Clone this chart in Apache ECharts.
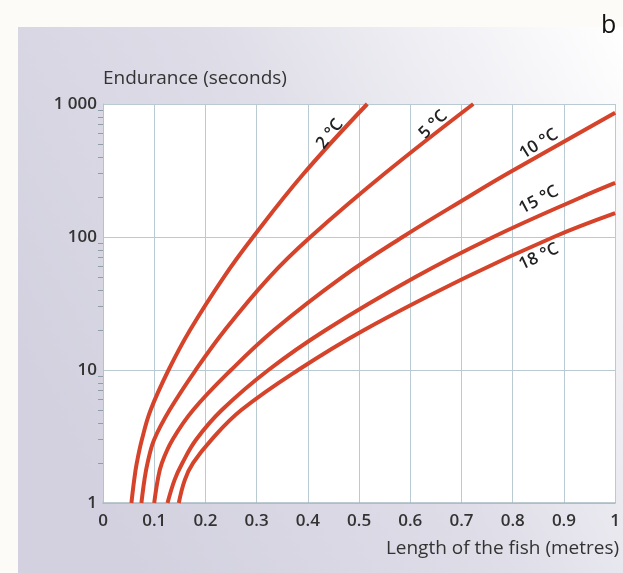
<!DOCTYPE html>
<html>
<head>
<meta charset="utf-8">
<script src="https://cdn.jsdelivr.net/npm/echarts@6/dist/echarts.min.js"></script>
<style>
  html, body { margin: 0; padding: 0; background: #fcfbf8; }
  #main { width: 623px; height: 573px; }
</style>
</head>
<body>
<div id="main"></div>
<script>
// Endurance (s) against fish length (m), one curve per water temperature
const tempNames = ['2 °C', '5 °C', '10 °C', '15 °C', '18 °C'];

// [length, endurance] pairs
const curve2 = [[0.0555, 1], [0.061, 1.5], [0.066, 2], [0.076, 3], [0.093, 5], [0.128, 10], [0.17, 20],
  [0.236, 50], [0.293, 100], [0.392, 300], [0.516, 1000]];
const curve5 = [[0.075, 1], [0.081, 1.5], [0.087, 2], [0.1, 3], [0.13, 5], [0.181, 10], [0.238, 20],
  [0.325, 50], [0.405, 100], [0.55, 300], [0.723, 1000]];
const curve10 = [[0.1, 1], [0.107, 1.5], [0.115, 2], [0.136, 3], [0.176, 5], [0.25, 10], [0.334, 20],
  [0.467, 50], [0.585, 100], [0.713, 200], [0.79, 300], [1, 860]];
const curve15 = [[0.126, 1], [0.14, 1.5], [0.155, 2], [0.182, 3], [0.232, 5], [0.323, 10], [0.435, 20],
  [0.61, 50], [0.762, 100], [0.935, 200], [1, 255]];
const curve18 = [[0.148, 1], [0.16, 1.5], [0.176, 2], [0.212, 3], [0.27, 5], [0.381, 10], [0.51, 20],
  [0.71, 50], [0.88, 100], [1, 151]];

const minorTickValues = [2, 3, 4, 5, 6, 7, 8, 9, 20, 30, 40, 50, 60, 70, 80, 90, 200, 300, 400, 500, 600, 700, 800, 900];

const curves = [curve2, curve5, curve10, curve15, curve18];

// where each temperature label sits (data coords) and its angle
const labelSpots = [
  { coord: [0.443, 595], rotate: 52 },
  { coord: [0.645, 700], rotate: 45 },
  { coord: [0.851, 500], rotate: 32 },
  { coord: [0.851, 190], rotate: 28 },
  { coord: [0.851, 71], rotate: 25 }
];

const FONT = 'Open Sans';
const gridColor = '#b9cad2';

const chart = echarts.init(document.getElementById('main'), null, { renderer: 'canvas' });

const series = curves.map(function (data, i) {
  return {
    name: tempNames[i],
    type: 'line',
    data: data,
    smooth: 0.4,
    showSymbol: false,
    symbol: 'none',
    lineStyle: { color: '#d6432b', width: 4 },
    markPoint: {
      symbol: 'circle',
      symbolSize: 0,
      data: [{
        coord: labelSpots[i].coord,
        label: {
          show: true,
          position: 'inside',
          formatter: tempNames[i],
          rotate: labelSpots[i].rotate,
          color: '#222',
          fontFamily: FONT,
          fontSize: 17,
          fontWeight: 600
        }
      }]
    },
    z: 3
  };
});

const option = {
  animation: false,
  backgroundColor: '#fcfbf8',
  graphic: [{
    type: 'rect',
    left: 18,
    top: 27,
    shape: { width: 605, height: 546 },
    style: {
      fill: new echarts.graphic.LinearGradient(0, 0.6, 1, 0, [
        { offset: 0, color: '#d3d1df' },
        { offset: 0.45, color: '#dddce7' },
        { offset: 1, color: '#ffffff' }
      ])
    },
    z: -10
  }],
  title: {
    text: 'b',
    left: 596,
    top: 8,
    textStyle: { fontFamily: FONT, fontSize: 25, fontWeight: 'normal', color: '#111' }
  },
  grid: {
    left: 103,
    right: 3,
    top: 104,
    bottom: 70,
    show: true,
    backgroundColor: '#ffffff',
    borderWidth: 0
  },
  xAxis: {
    type: 'value',
    min: 0,
    max: 1,
    interval: 0.1,
    name: 'Length of the fish (metres)',
    nameLocation: 'end',
    nameGap: 4,
    nameTextStyle: {
      align: 'right',
      verticalAlign: 'top',
      padding: [36, 0, 0, 0],
      fontFamily: FONT,
      fontSize: 19,
      color: '#333'
    },
    axisLine: { show: true, lineStyle: { color: '#a9b9c2', width: 1.5 } },
    axisTick: { show: false },
    splitLine: { show: true, lineStyle: { color: gridColor, width: 1 } },
    axisLabel: {
      margin: 10,
      fontFamily: FONT,
      fontSize: 17,
      fontWeight: 600,
      color: '#333',
      formatter: function (v) { return String(Math.round(v * 10) / 10); }
    }
  },
  yAxis: [{
    type: 'log',
    logBase: 10,
    min: 1,
    max: 1000,
    name: 'Endurance (seconds)',
    nameLocation: 'end',
    nameGap: 16,
    nameTextStyle: {
      align: 'left',
      fontFamily: FONT,
      fontSize: 19,
      color: '#333'
    },
    axisLine: { show: true, lineStyle: { color: '#b3c3cb', width: 1 } },
    axisTick: { show: false },
    splitLine: { show: true, lineStyle: { color: gridColor, width: 1 } },
    axisLabel: {
      margin: 6,
      fontFamily: FONT,
      fontSize: 17,
      fontWeight: 600,
      color: '#333',
      formatter: function (v) { return v === 1000 ? '1 000' : String(v); }
    }
  }, {
    // only draws the small log ticks on the left edge
    type: 'log',
    logBase: 10,
    min: 1,
    max: 1000,
    position: 'left',
    axisLine: { show: false },
    splitLine: { show: false },
    axisLabel: { show: false },
    axisTick: {
      show: true,
      length: 5,
      customValues: minorTickValues,
      lineStyle: { color: '#8f9ea8', width: 1 }
    }
  }],
  series: series
};

chart.setOption(option);
</script>
</body>
</html>
